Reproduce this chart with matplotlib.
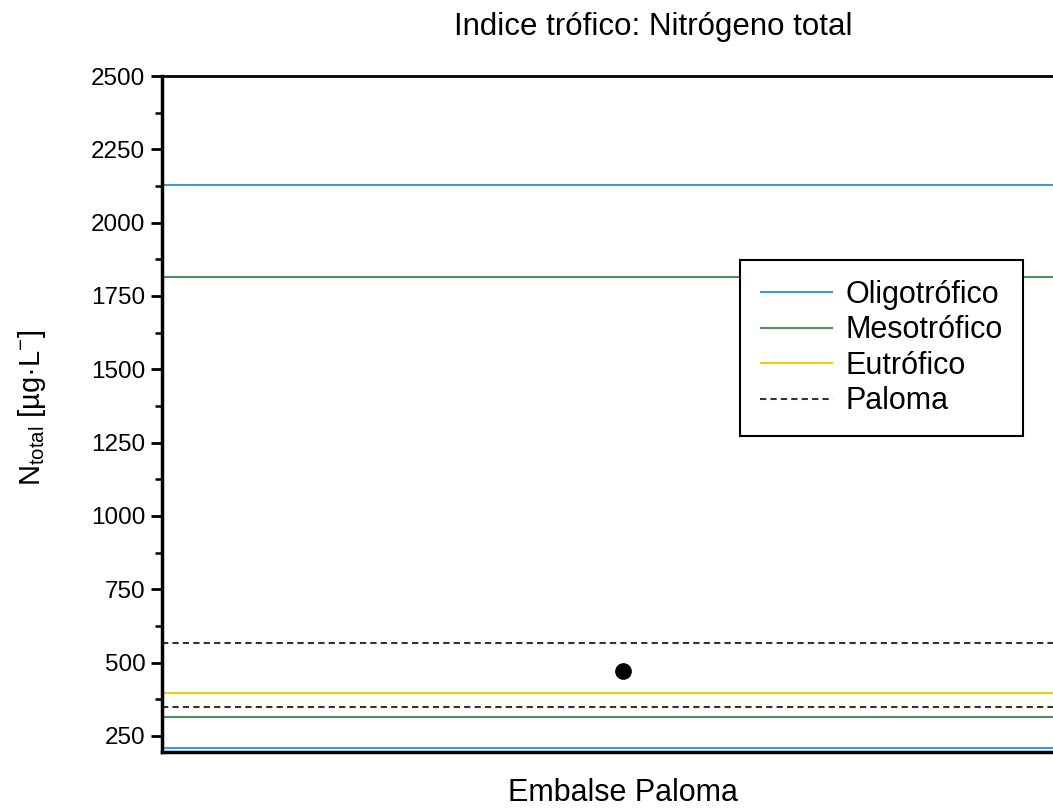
import matplotlib
matplotlib.use("Agg")
import matplotlib.pyplot as plt
from matplotlib.ticker import MultipleLocator

plt.rcParams['font.family'] = ['Liberation Sans', 'DejaVu Sans']
plt.rcParams['mathtext.fontset'] = 'custom'
plt.rcParams['mathtext.rm'] = 'Liberation Sans'

# limits of each trophic class (ug/L)
oligo = [2130, 210]
meso = [1815, 315]
eutro = [395]
paloma = [568, 350]
# measured mean value at the reservoir
site = ["Embalse Paloma"]
n_total = [472]

fig = plt.figure(figsize=(10.53, 8.09), dpi=100)
ax = fig.add_axes([162 / 1053, 1 - 752 / 809, 922 / 1053, 676 / 809])

x0, x1 = 0, 2
ax.hlines(oligo, x0, x1, color="#3b9bd6", lw=1.5, label="Oligotrófico")
ax.hlines(meso, x0, x1, color="#4f8f62", lw=1.5, label="Mesotrófico")
ax.hlines(eutro, x0, x1, color="#f2c81a", lw=1.5, label="Eutrófico")
ax.hlines(paloma, x0, x1, color="#333333", lw=1.5, linestyles=(0, (3, 2)), label="Paloma")
ax.plot([1], n_total, "o", color="black", ms=11)

ax.set_xlim(x0, x1)
ax.set_ylim(195, 2500)
ax.set_xticks([])
ax.yaxis.set_major_locator(MultipleLocator(250))
ax.yaxis.set_minor_locator(MultipleLocator(125))
ax.tick_params(axis="y", which="major", direction="out", length=8, width=2, labelsize=17.5, pad=4)
ax.tick_params(axis="y", which="minor", direction="out", length=5, width=1.8)
for s in ["left", "bottom"]:
    ax.spines[s].set_linewidth(2.5)
ax.spines["top"].set_linewidth(2)

ax.set_xlabel(site[0], fontsize=22, labelpad=19)
ax.set_ylabel(r"$\mathrm{N_{total}}$ [µg·L$^{-}$]", fontsize=21)
ax.yaxis.set_label_coords(-0.124, 0.51)
fig.text(0.62, 1 - 27 / 809, "Indice trófico: Nitrógeno total", ha="center", va="center", fontsize=22.5)

leg = ax.legend(loc="upper left", bbox_to_anchor=(740 / 1053, 1 - 260 / 809),
                bbox_transform=fig.transFigure, borderaxespad=0, fontsize=22,
                handlelength=2.4, handletextpad=0.4, labelspacing=0.18,
                fancybox=False, framealpha=1, borderpad=0.65)
leg.get_frame().set_edgecolor("black")
leg.get_frame().set_linewidth(1.5)

fig.savefig("out.png", dpi=100)
